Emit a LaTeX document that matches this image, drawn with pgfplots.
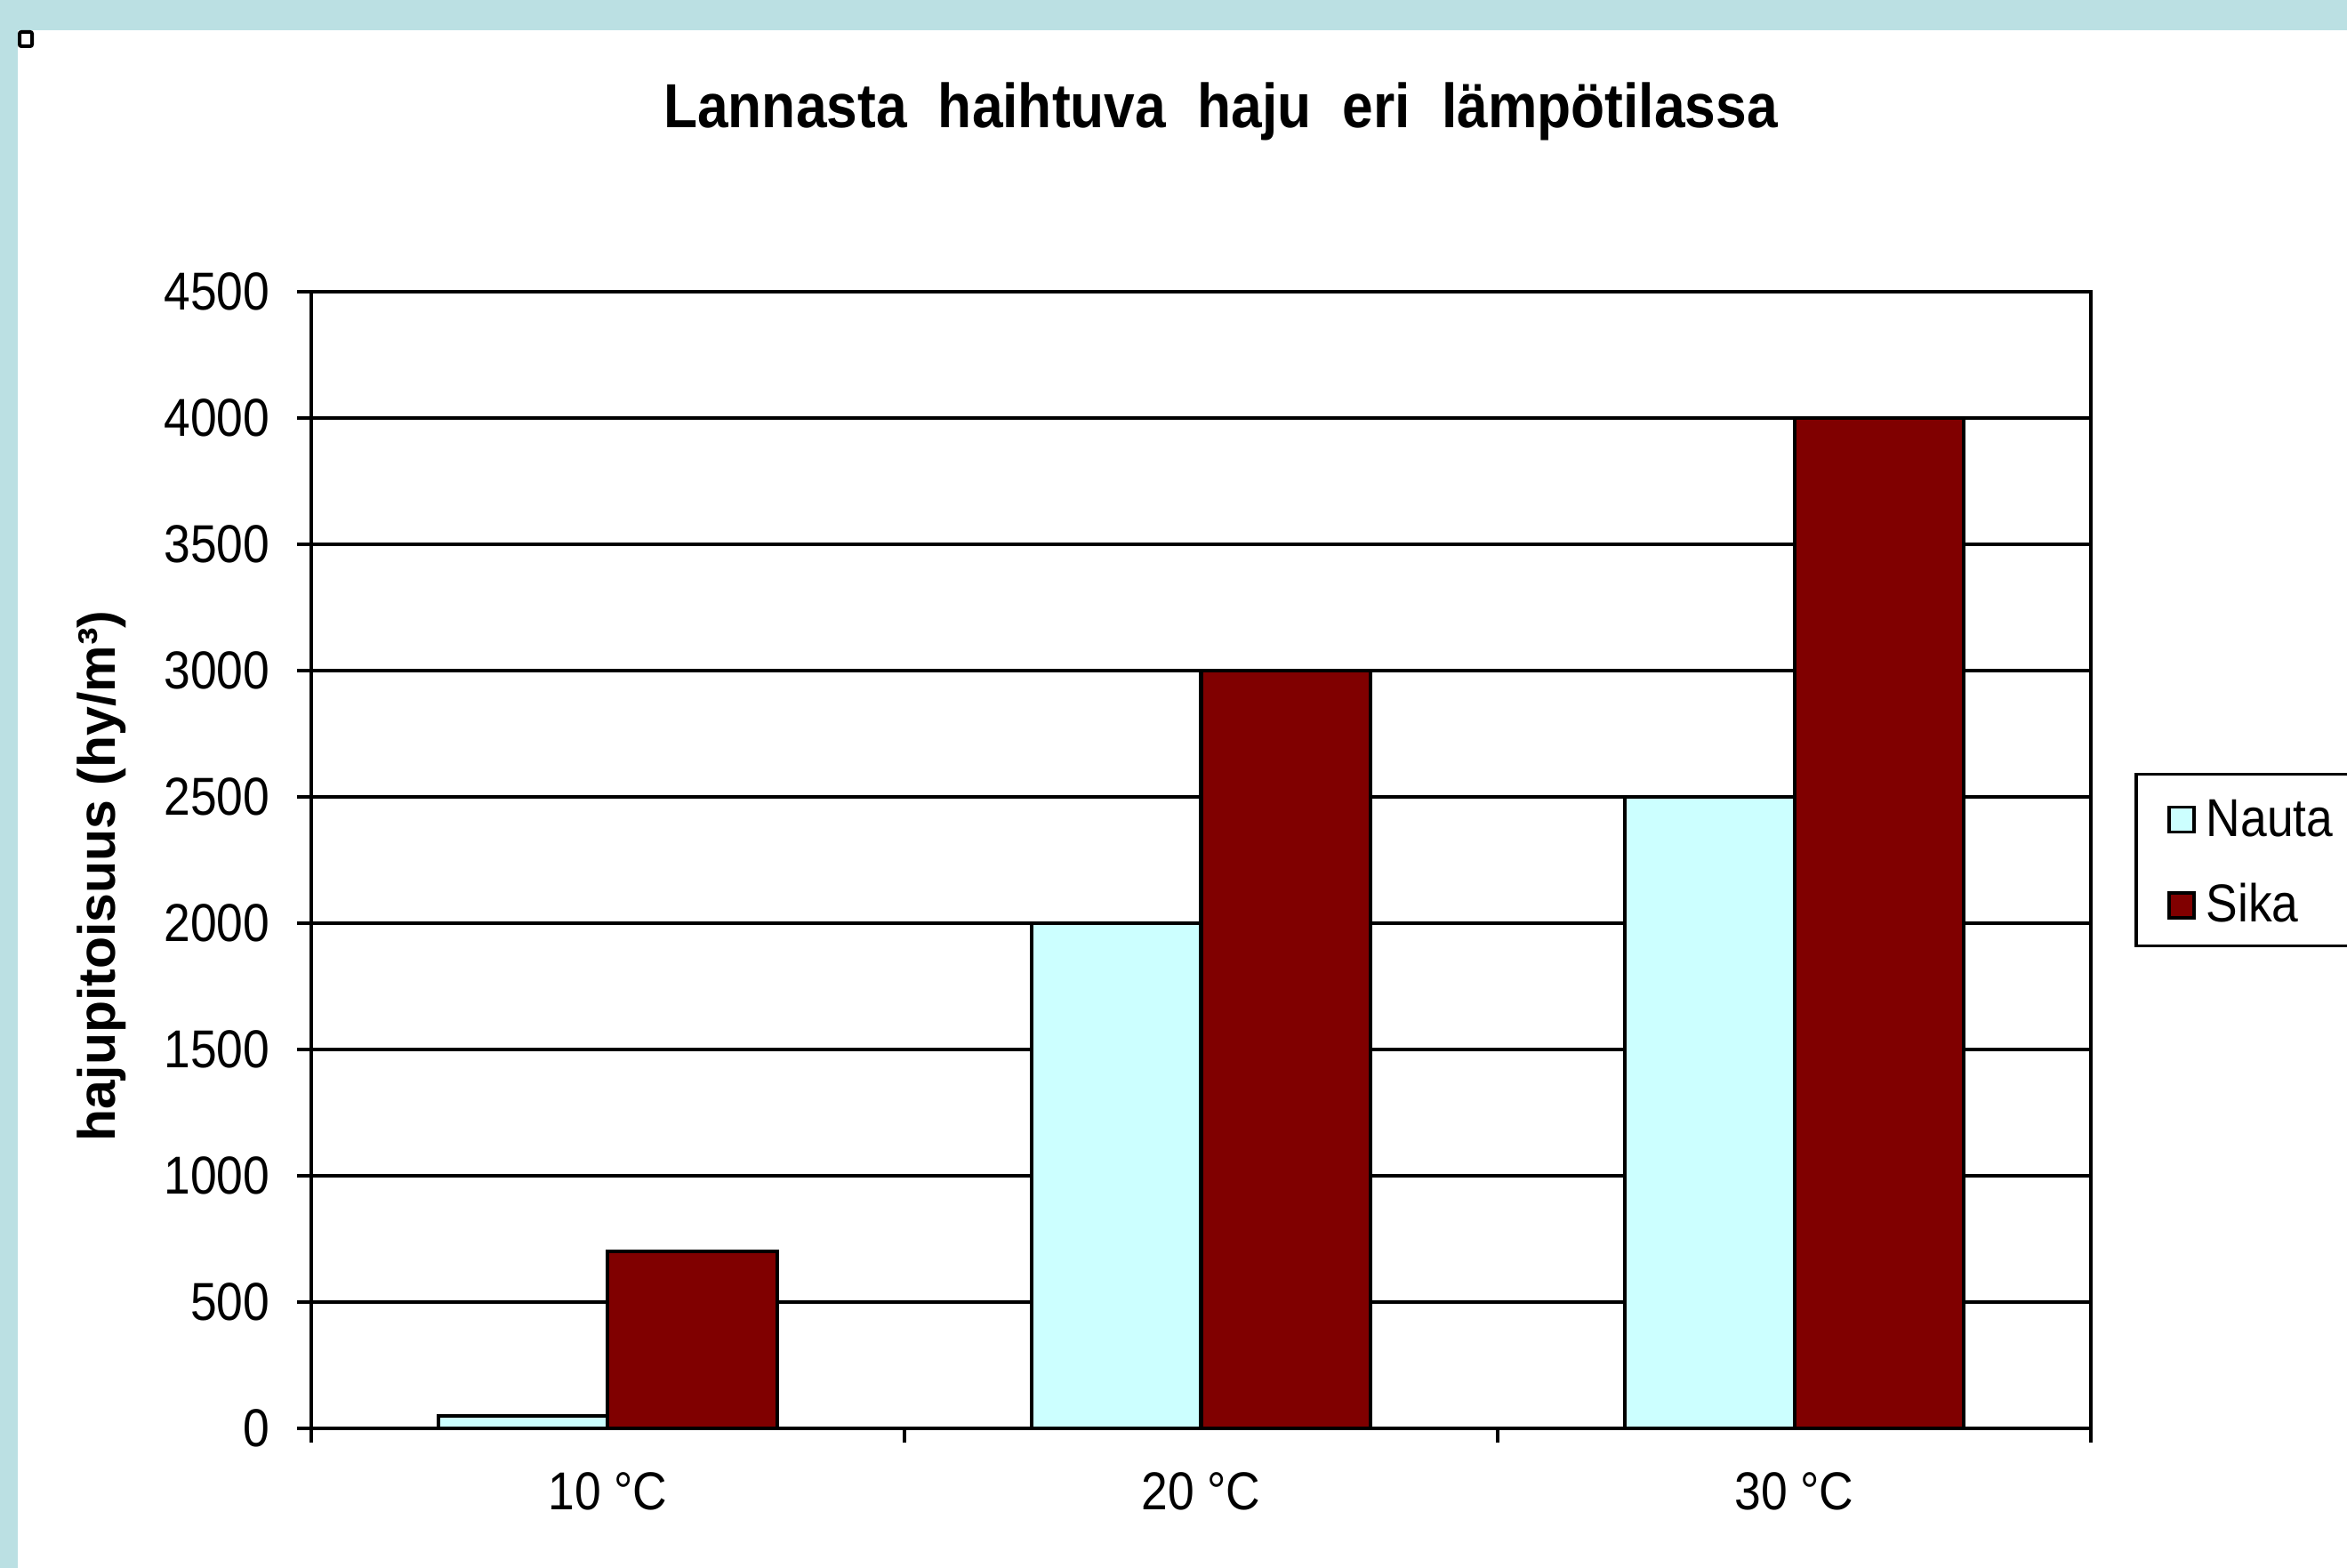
\documentclass[border=0pt]{standalone}
\usepackage{fontspec}
\setmainfont{Liberation Sans}[FakeStretch=0.89]
\newfontfamily\ylfont{Liberation Sans}
\usepackage{pgfplots}
\pgfplotsset{compat=1.18}
\definecolor{nauta}{RGB}{204,255,255}
\definecolor{sika}{RGB}{128,0,0}
\definecolor{bgblue}{RGB}{187,224,227}
\begin{document}
\begin{tikzpicture}
\useasboundingbox (0,0) rectangle (659.75pt,440.75pt);
\fill[bgblue] (0,0) rectangle (659.75pt,440.75pt);
\fill[white] (5pt,0) rectangle (659.75pt,432.25pt);
\draw[line width=1pt, rounded corners=0.5pt] (5.5pt,427.75pt) rectangle (9pt,431.75pt);
\begin{axis}[
  at={(87.5pt,39.25pt)}, anchor=south west,
  scale only axis, width=500.25pt, height=319.5pt,
  xmin=-0.5, xmax=2.5, ymin=0, ymax=4500,
  ytick={0,500,...,4500},
  xtick={0,1,2}, xticklabels={10 °C, 20 °C, 30 °C},
  minor xtick={-0.5,0.5,1.5,2.5},
  tick align=outside, xtick pos=bottom, ytick pos=left,
  major tick length=4pt, minor tick length=4pt,
  major x tick style={draw=none},
  minor x tick style={draw=black, line width=1pt},
  major y tick style={draw=black, line width=1pt},
  axis line style={line width=1pt},
  ymajorgrids, major grid style={black, line width=1pt},
  scaled y ticks=false,
  /pgf/number format/assume math mode=true,
  /pgf/number format/1000 sep={},
  tick label style={font=\fontsize{15pt}{18pt}\selectfont},
  yticklabel style={anchor=east, inner sep=0pt, xshift=-7.5pt},
  xticklabel style={anchor=north, inner sep=0pt, yshift=-8.25pt},
  title={Lannasta\hspace{4.5pt} haihtuva\hspace{4.5pt} haju\hspace{4.5pt} eri\hspace{4.5pt} lämpötilassa},
  title style={at={(axis description cs:0.511,1.1254)}, anchor=base, yshift=0pt, font=\fontsize{17.5pt}{21pt}\selectfont\bfseries},
  ylabel={\ylfont\bfseries hajupitoisuus (hy/m³)},
  every axis y label/.style={at={(axis description cs:-0.118,0.486)}, rotate=90, anchor=center, font=\fontsize{14.75pt}{17pt}\selectfont},
  legend style={at={(1,0.5)}, anchor=west, xshift=12.25pt, draw=black, line width=0.9pt,
    inner xsep=4.75pt, inner ysep=6.6pt, row sep=13.4pt,
    font=\fontsize{15pt}{18pt}\selectfont,
    nodes={inner sep=0pt, text height=10.8pt, text depth=0pt}},
  legend cell align=left,
  legend image code/.code={
    \path (0pt,0pt) (14pt,0pt);
    \draw[#1, line width=0.9pt] (4pt,-4.2pt) rectangle (11pt,2.8pt);
  },
]
\addplot[ybar, bar width=0.285, bar shift=-0.1425, fill=nauta, draw=black, line width=1pt]
  coordinates {(0,50) (1,2000) (2,2500)};
\addlegendentry{Nauta}
\addplot[ybar, bar width=0.285, bar shift=0.1425, fill=sika, draw=black, line width=1pt]
  coordinates {(0,700) (1,3000) (2,4000)};
\addlegendentry{Sika}
\end{axis}
\end{tikzpicture}
\end{document}
